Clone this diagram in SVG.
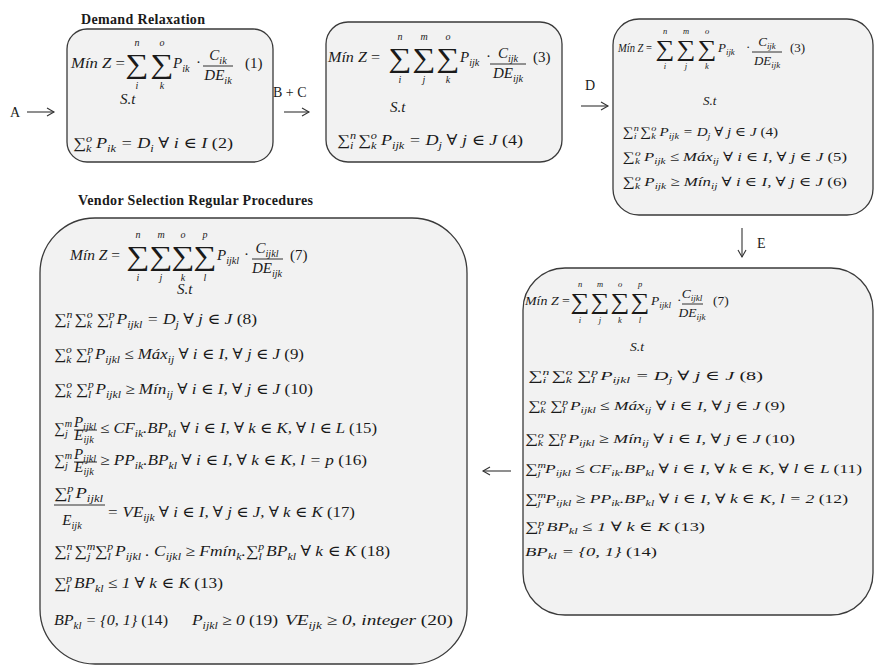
<svg xmlns="http://www.w3.org/2000/svg" width="875" height="666" viewBox="0 0 875 666">
<defs>
<style>
.box{fill:#f2f2f2;stroke:#3a3a3a;stroke-width:1.3}
text{font-family:"Liberation Serif","DejaVu Serif",serif;fill:#1a1a1a}
.m{font-style:italic;font-size:15px}
.m2{font-style:italic;font-size:13.5px}
.m3{font-style:italic;font-size:13px}
.u{font-style:normal}
.s{font-size:0.68em}
.sig{font-size:27px;font-style:normal;text-anchor:middle}
.sig2{font-size:23px;font-style:normal;text-anchor:middle}
.lim{font-size:10px;font-style:italic;text-anchor:middle}
.lim2{font-size:8.5px;font-style:italic;text-anchor:middle}
.ttl{font-weight:bold;font-size:14px}
.lbl{font-size:14px}
.c{text-anchor:middle}
.ln{stroke:#1a1a1a;stroke-width:0.9;fill:none}
.ar{stroke:#333;stroke-width:1.1;fill:none}
</style>
<marker id="ah" markerWidth="12" markerHeight="12" refX="9" refY="6" orient="auto" markerUnits="userSpaceOnUse">
<path d="M2,2 L9,6 L2,10" fill="none" stroke="#333" stroke-width="1.1"/>
</marker>
</defs>
<rect width="875" height="666" fill="#ffffff"/>

<g id="connectors">
<text class="lbl" x="10" y="117">A</text>
<line class="ar" x1="27" y1="112" x2="54" y2="112" marker-end="url(#ah)"/>
<text class="lbl" x="273" y="97">B + C</text>
<line class="ar" x1="284" y1="112" x2="309" y2="112" marker-end="url(#ah)"/>
<text class="lbl" x="585" y="90">D</text>
<line class="ar" x1="581" y1="106" x2="608" y2="106" marker-end="url(#ah)"/>
<line class="ar" x1="742" y1="228" x2="742" y2="257" marker-end="url(#ah)"/>
<text class="lbl" x="757" y="248">E</text>
<line class="ar" x1="511" y1="471" x2="483" y2="471" marker-end="url(#ah)"/>
</g>

<g id="n1">
<text class="ttl" x="81" y="24" textLength="124">Demand Relaxation</text>
<rect class="box" x="67" y="29" width="206" height="133" rx="20"/>
<text class="m" x="71" y="68" textLength="54" lengthAdjust="spacingAndGlyphs">Mín Z <tspan class="u">=</tspan></text>
<text class="sig" transform="translate(137,73) scale(1.2,1)">∑</text>
<text class="sig" transform="translate(162,73) scale(1.2,1)">∑</text>
<text class="lim" x="137" y="46">n</text><text class="lim" x="137" y="89">i</text>
<text class="lim" x="162" y="46">o</text><text class="lim" x="162" y="89">k</text>
<text class="m" x="173" y="68">P<tspan class="s" dy="4">ik</tspan></text>
<text class="m u" x="196" y="67">·</text>
<text class="m c" x="218" y="60">C<tspan class="s" dy="4">ik</tspan></text>
<line class="ln" x1="203" y1="66" x2="233" y2="66"/>
<text class="m c" x="218" y="80">DE<tspan class="s" dy="4">ik</tspan></text>
<text class="m u" x="245" y="68">(1)</text>
<text class="m" x="120" y="104" font-size="14">S.t</text>
<text class="m" x="73" y="148" textLength="160" lengthAdjust="spacingAndGlyphs"><tspan class="u">∑</tspan><tspan class="s" dy="-6">o</tspan><tspan class="s" dx="-5" dy="10">k</tspan><tspan dy="-4"> P</tspan><tspan class="s" dy="4">ik</tspan><tspan dy="-4"> = D</tspan><tspan class="s" dy="4">i</tspan><tspan dy="-4"> ∀ i ∈ I </tspan><tspan class="u">(2)</tspan></text>
</g>

<g id="n2">
<rect class="box" x="326" y="22" width="236" height="140" rx="22"/>
<text class="m" x="328" y="62" textLength="52" lengthAdjust="spacingAndGlyphs">Mín Z <tspan class="u">=</tspan></text>
<text class="sig" transform="translate(400,67) scale(1.2,1)">∑</text>
<text class="sig" transform="translate(424,67) scale(1.2,1)">∑</text>
<text class="sig" transform="translate(448,67) scale(1.2,1)">∑</text>
<text class="lim" x="400" y="40">n</text><text class="lim" x="400" y="83">i</text>
<text class="lim" x="424" y="40">m</text><text class="lim" x="424" y="83">j</text>
<text class="lim" x="448" y="40">o</text><text class="lim" x="448" y="83">k</text>
<text class="m" x="460" y="62">P<tspan class="s" dy="4">ijk</tspan></text>
<text class="m u" x="486" y="61">·</text>
<text class="m c" x="508" y="58">C<tspan class="s" dy="4">ijk</tspan></text>
<line class="ln" x1="490" y1="64" x2="526" y2="64"/>
<text class="m c" x="508" y="78">DE<tspan class="s" dy="4">ijk</tspan></text>
<text class="m u" x="533" y="62">(3)</text>
<text class="m" x="390" y="112" font-size="14">S.t</text>
<text class="m" x="337" y="145" textLength="186" lengthAdjust="spacingAndGlyphs"><tspan class="u">∑</tspan><tspan class="s" dy="-6">n</tspan><tspan class="s" dx="-5" dy="10">i</tspan><tspan dy="-4"> </tspan><tspan class="u">∑</tspan><tspan class="s" dy="-6">o</tspan><tspan class="s" dx="-5" dy="10">k</tspan><tspan dy="-4"> P</tspan><tspan class="s" dy="4">ijk</tspan><tspan dy="-4"> = D</tspan><tspan class="s" dy="4">j</tspan><tspan dy="-4"> ∀ j ∈ J </tspan><tspan class="u">(4)</tspan></text>
</g>

<g id="n3">
<rect class="box" x="613" y="19" width="260" height="196" rx="26"/>
<text class="m3" x="618" y="52" textLength="34" lengthAdjust="spacingAndGlyphs">Mín Z <tspan class="u">=</tspan></text>
<text class="sig2" transform="translate(665,56) scale(1.15,1)">∑</text>
<text class="sig2" transform="translate(686,56) scale(1.15,1)">∑</text>
<text class="sig2" transform="translate(707,56) scale(1.15,1)">∑</text>
<text class="lim2" x="665" y="34">n</text><text class="lim2" x="665" y="69">i</text>
<text class="lim2" x="686" y="34">m</text><text class="lim2" x="686" y="69">j</text>
<text class="lim2" x="707" y="34">o</text><text class="lim2" x="707" y="69">k</text>
<text class="m3" x="718" y="52">P<tspan class="s" dy="3">ijk</tspan></text>
<text class="m3 u" x="746" y="51">·</text>
<text class="m3 c" x="767" y="46">C<tspan class="s" dy="3">ijk</tspan></text>
<line class="ln" x1="752" y1="52" x2="782" y2="52"/>
<text class="m3 c" x="767" y="65">DE<tspan class="s" dy="3">ijk</tspan></text>
<text class="m3 u" x="790" y="52">(3)</text>
<text class="m3" x="703" y="105">S.t</text>
<text class="m3" x="623" y="136" textLength="155" lengthAdjust="spacingAndGlyphs"><tspan class="u">∑</tspan><tspan class="s" dy="-5">n</tspan><tspan class="s" dx="-4.4" dy="8">i</tspan><tspan dy="-3"> </tspan><tspan class="u">∑</tspan><tspan class="s" dy="-5">o</tspan><tspan class="s" dx="-4.4" dy="8">k</tspan><tspan dy="-3"> P</tspan><tspan class="s" dy="3">ijk</tspan><tspan dy="-3"> = D</tspan><tspan class="s" dy="3">j</tspan><tspan dy="-3"> ∀ j ∈ J </tspan><tspan class="u">(4)</tspan></text>
<text class="m3" x="623" y="161" textLength="224" lengthAdjust="spacingAndGlyphs"><tspan class="u">∑</tspan><tspan class="s" dy="-5">o</tspan><tspan class="s" dx="-4.4" dy="8">k</tspan><tspan dy="-3"> P</tspan><tspan class="s" dy="3">ijk</tspan><tspan dy="-3"> ≤ Máx</tspan><tspan class="s" dy="3">ij</tspan><tspan dy="-3"> ∀ i ∈ I, ∀ j ∈ J </tspan><tspan class="u">(5)</tspan></text>
<text class="m3" x="623" y="186" textLength="224" lengthAdjust="spacingAndGlyphs"><tspan class="u">∑</tspan><tspan class="s" dy="-5">o</tspan><tspan class="s" dx="-4.4" dy="8">k</tspan><tspan dy="-3"> P</tspan><tspan class="s" dy="3">ijk</tspan><tspan dy="-3"> ≥ Mín</tspan><tspan class="s" dy="3">ij</tspan><tspan dy="-3"> ∀ i ∈ I, ∀ j ∈ J </tspan><tspan class="u">(6)</tspan></text>
</g>

<g id="n4">
<text class="ttl" x="78" y="205" textLength="235">Vendor Selection Regular Procedures</text>
<rect class="box" x="40" y="218" width="427" height="446" rx="55"/>
<text class="m" x="70" y="260" textLength="50" lengthAdjust="spacingAndGlyphs">Mín Z <tspan class="u">=</tspan></text>
<text class="sig" transform="translate(138,265) scale(1.2,1)">∑</text>
<text class="sig" transform="translate(161,265) scale(1.2,1)">∑</text>
<text class="sig" transform="translate(183,265) scale(1.2,1)">∑</text>
<text class="sig" transform="translate(205,265) scale(1.2,1)">∑</text>
<text class="lim" x="138" y="238">n</text><text class="lim" x="138" y="281">i</text>
<text class="lim" x="161" y="238">m</text><text class="lim" x="161" y="281">j</text>
<text class="lim" x="183" y="238">o</text><text class="lim" x="183" y="281">k</text>
<text class="lim" x="205" y="238">p</text><text class="lim" x="205" y="281">l</text>
<text class="m" x="217" y="260">P<tspan class="s" dy="4">ijkl</tspan></text>
<text class="m u" x="244" y="259">·</text>
<text class="m c" x="267" y="253">C<tspan class="s" dy="4">ijkl</tspan></text>
<line class="ln" x1="252" y1="259" x2="283" y2="259"/>
<text class="m c" x="267" y="273">DE<tspan class="s" dy="4">ijk</tspan></text>
<text class="m u" x="290" y="260">(7)</text>
<text class="m" x="177" y="294" font-size="14">S.t</text>
<text class="m" x="54" y="324" textLength="203" lengthAdjust="spacingAndGlyphs"><tspan class="u">∑</tspan><tspan class="s" dy="-6">n</tspan><tspan class="s" dx="-5" dy="10">i</tspan><tspan dy="-4"> </tspan><tspan class="u">∑</tspan><tspan class="s" dy="-6">o</tspan><tspan class="s" dx="-5" dy="10">k</tspan><tspan dy="-4"> </tspan><tspan class="u">∑</tspan><tspan class="s" dy="-6">p</tspan><tspan class="s" dx="-5" dy="10">l</tspan><tspan dy="-4"> P</tspan><tspan class="s" dy="4">ijkl</tspan><tspan dy="-4"> = D</tspan><tspan class="s" dy="4">j</tspan><tspan dy="-4"> ∀ j ∈ J </tspan><tspan class="u">(8)</tspan></text>
<text class="m" x="54" y="359" textLength="250" lengthAdjust="spacingAndGlyphs"><tspan class="u">∑</tspan><tspan class="s" dy="-6">o</tspan><tspan class="s" dx="-5" dy="10">k</tspan><tspan dy="-4"> </tspan><tspan class="u">∑</tspan><tspan class="s" dy="-6">p</tspan><tspan class="s" dx="-5" dy="10">l</tspan><tspan dy="-4"> P</tspan><tspan class="s" dy="4">ijkl</tspan><tspan dy="-4"> ≤ Máx</tspan><tspan class="s" dy="4">ij</tspan><tspan dy="-4"> ∀ i ∈ I, ∀ j ∈ J </tspan><tspan class="u">(9)</tspan></text>
<text class="m" x="54" y="394" textLength="259" lengthAdjust="spacingAndGlyphs"><tspan class="u">∑</tspan><tspan class="s" dy="-6">o</tspan><tspan class="s" dx="-5" dy="10">k</tspan><tspan dy="-4"> </tspan><tspan class="u">∑</tspan><tspan class="s" dy="-6">p</tspan><tspan class="s" dx="-5" dy="10">l</tspan><tspan dy="-4"> P</tspan><tspan class="s" dy="4">ijkl</tspan><tspan dy="-4"> ≥ Mín</tspan><tspan class="s" dy="4">ij</tspan><tspan dy="-4"> ∀ i ∈ I, ∀ j ∈ J </tspan><tspan class="u">(10)</tspan></text>
<text class="m" x="54" y="433"><tspan class="u">∑</tspan><tspan class="s" dy="-6">m</tspan><tspan class="s" dx="-7" dy="10">j</tspan></text>
<text class="m c" x="85" y="427" font-size="10">P<tspan class="s" dy="3">ijkl</tspan></text>
<line class="ln" x1="74" y1="430" x2="97" y2="430" stroke-width="0.7"/>
<text class="m c" x="84" y="440" font-size="10">E<tspan class="s" dy="3">ijk</tspan></text>
<text class="m" x="100" y="433" textLength="277" lengthAdjust="spacingAndGlyphs">≤ CF<tspan class="s" dy="4">ik</tspan><tspan dy="-4">.BP</tspan><tspan class="s" dy="4">kl</tspan><tspan dy="-4"> ∀ i ∈ I, ∀ k ∈ K, ∀ l ∈ L </tspan><tspan class="u">(15)</tspan></text>
<text class="m" x="54" y="465"><tspan class="u">∑</tspan><tspan class="s" dy="-6">m</tspan><tspan class="s" dx="-7" dy="10">j</tspan></text>
<text class="m c" x="85" y="459" font-size="10">P<tspan class="s" dy="3">ijkl</tspan></text>
<line class="ln" x1="74" y1="462" x2="97" y2="462" stroke-width="0.7"/>
<text class="m c" x="84" y="472" font-size="10">E<tspan class="s" dy="3">ijk</tspan></text>
<text class="m" x="100" y="465" textLength="267" lengthAdjust="spacingAndGlyphs">≥ PP<tspan class="s" dy="4">ik</tspan><tspan dy="-4">.BP</tspan><tspan class="s" dy="4">kl</tspan><tspan dy="-4"> ∀ i ∈ I, ∀ k ∈ K, l = p </tspan><tspan class="u">(16)</tspan></text>
<text class="m" x="54" y="498" textLength="49" lengthAdjust="spacingAndGlyphs"><tspan class="u">∑</tspan><tspan class="s" dy="-6">p</tspan><tspan class="s" dx="-5" dy="10">l</tspan><tspan dy="-4"> P</tspan><tspan class="s" dy="4">ijkl</tspan></text>
<line class="ln" x1="54" y1="505" x2="105" y2="505"/>
<text class="m c" x="72" y="525">E<tspan class="s" dy="4">ijk</tspan></text>
<text class="m" x="107" y="517" textLength="248" lengthAdjust="spacingAndGlyphs">= VE<tspan class="s" dy="4">ijk</tspan><tspan dy="-4"> ∀ i ∈ I, ∀ j ∈ J, ∀ k ∈ K </tspan><tspan class="u">(17)</tspan></text>
<text class="m" x="54" y="556" textLength="336" lengthAdjust="spacingAndGlyphs"><tspan class="u">∑</tspan><tspan class="s" dy="-6">n</tspan><tspan class="s" dx="-5" dy="10">i</tspan><tspan dy="-4"> </tspan><tspan class="u">∑</tspan><tspan class="s" dy="-6">m</tspan><tspan class="s" dx="-7" dy="10">j</tspan><tspan dy="-4"> </tspan><tspan class="u">∑</tspan><tspan class="s" dy="-6">p</tspan><tspan class="s" dx="-5" dy="10">l</tspan><tspan dy="-4"> P</tspan><tspan class="s" dy="4">ijkl</tspan><tspan dy="-4"> . C</tspan><tspan class="s" dy="4">ijkl</tspan><tspan dy="-4"> ≥ Fmín</tspan><tspan class="s" dy="4">k</tspan><tspan dy="-4">.</tspan><tspan class="u">∑</tspan><tspan class="s" dy="-6">p</tspan><tspan class="s" dx="-5" dy="10">l</tspan><tspan dy="-4"> BP</tspan><tspan class="s" dy="4">kl</tspan><tspan dy="-4"> ∀ k ∈ K </tspan><tspan class="u">(18)</tspan></text>
<text class="m" x="54" y="588" textLength="169" lengthAdjust="spacingAndGlyphs"><tspan class="u">∑</tspan><tspan class="s" dy="-6">p</tspan><tspan class="s" dx="-5" dy="10">l</tspan><tspan dy="-4"> BP</tspan><tspan class="s" dy="4">kl</tspan><tspan dy="-4"> ≤ 1 ∀ k ∈ K </tspan><tspan class="u">(13)</tspan></text>
<text class="m" x="54" y="625" textLength="114" lengthAdjust="spacingAndGlyphs">BP<tspan class="s" dy="4">kl</tspan><tspan dy="-4"> = {0, 1} </tspan><tspan class="u">(14)</tspan></text>
<text class="m" x="192" y="625" textLength="86" lengthAdjust="spacingAndGlyphs">P<tspan class="s" dy="4">ijkl</tspan><tspan dy="-4"> ≥ 0 </tspan><tspan class="u">(19)</tspan></text>
<text class="m" x="285" y="625" textLength="168" lengthAdjust="spacingAndGlyphs">VE<tspan class="s" dy="4">ijk</tspan><tspan dy="-4"> ≥ 0, integer </tspan><tspan class="u">(20)</tspan></text>
</g>

<g id="n5">
<rect class="box" x="523" y="268" width="350" height="347" rx="42"/>
<text class="m2" x="525" y="305" textLength="45" lengthAdjust="spacingAndGlyphs">Mín Z <tspan class="u">=</tspan></text>
<text class="sig2" transform="translate(580,309) scale(1.15,1)">∑</text>
<text class="sig2" transform="translate(600,309) scale(1.15,1)">∑</text>
<text class="sig2" transform="translate(620,309) scale(1.15,1)">∑</text>
<text class="sig2" transform="translate(640,309) scale(1.15,1)">∑</text>
<text class="lim2" x="580" y="287">n</text><text class="lim2" x="580" y="323">i</text>
<text class="lim2" x="600" y="287">m</text><text class="lim2" x="600" y="323">j</text>
<text class="lim2" x="620" y="287">o</text><text class="lim2" x="620" y="323">k</text>
<text class="lim2" x="640" y="287">p</text><text class="lim2" x="640" y="323">l</text>
<text class="m2" x="651" y="305">P<tspan class="s" dy="3">ijkl</tspan></text>
<text class="m2 u" x="677" y="304">·</text>
<text class="m2 c" x="692" y="298">C<tspan class="s" dy="3">ijkl</tspan></text>
<line class="ln" x1="682" y1="304" x2="703" y2="304"/>
<text class="m2 c" x="692" y="317">DE<tspan class="s" dy="3">ijk</tspan></text>
<text class="m2 u" x="713" y="305">(7)</text>
<text class="m2" x="630" y="351">S.t</text>
<text class="m2" x="528" y="380" textLength="235" lengthAdjust="spacingAndGlyphs"><tspan class="u">∑</tspan><tspan class="s" dy="-5">n</tspan><tspan class="s" dx="-4.6" dy="8">i</tspan><tspan dy="-3"> </tspan><tspan class="u">∑</tspan><tspan class="s" dy="-5">o</tspan><tspan class="s" dx="-4.6" dy="8">k</tspan><tspan dy="-3"> </tspan><tspan class="u">∑</tspan><tspan class="s" dy="-5">p</tspan><tspan class="s" dx="-4.6" dy="8">l</tspan><tspan dy="-3"> P</tspan><tspan class="s" dy="3">ijkl</tspan><tspan dy="-3"> = D</tspan><tspan class="s" dy="3">j</tspan><tspan dy="-3"> ∀ j ∈ J </tspan><tspan class="u">(8)</tspan></text>
<text class="m2" x="528" y="410" textLength="257" lengthAdjust="spacingAndGlyphs"><tspan class="u">∑</tspan><tspan class="s" dy="-5">o</tspan><tspan class="s" dx="-4.6" dy="8">k</tspan><tspan dy="-3"> </tspan><tspan class="u">∑</tspan><tspan class="s" dy="-5">p</tspan><tspan class="s" dx="-4.6" dy="8">l</tspan><tspan dy="-3"> P</tspan><tspan class="s" dy="3">ijkl</tspan><tspan dy="-3"> ≤ Máx</tspan><tspan class="s" dy="3">ij</tspan><tspan dy="-3"> ∀ i ∈ I, ∀ j ∈ J </tspan><tspan class="u">(9)</tspan></text>
<text class="m2" x="525" y="443" textLength="270" lengthAdjust="spacingAndGlyphs"><tspan class="u">∑</tspan><tspan class="s" dy="-5">o</tspan><tspan class="s" dx="-4.6" dy="8">k</tspan><tspan dy="-3"> </tspan><tspan class="u">∑</tspan><tspan class="s" dy="-5">p</tspan><tspan class="s" dx="-4.6" dy="8">l</tspan><tspan dy="-3"> P</tspan><tspan class="s" dy="3">ijkl</tspan><tspan dy="-3"> ≥ Mín</tspan><tspan class="s" dy="3">ij</tspan><tspan dy="-3"> ∀ i ∈ I, ∀ j ∈ J </tspan><tspan class="u">(10)</tspan></text>
<text class="m2" x="525" y="473" textLength="337" lengthAdjust="spacingAndGlyphs"><tspan class="u">∑</tspan><tspan class="s" dy="-5">m</tspan><tspan class="s" dx="-6.6" dy="8">j</tspan><tspan dy="-3"> P</tspan><tspan class="s" dy="3">ijkl</tspan><tspan dy="-3"> ≤ CF</tspan><tspan class="s" dy="3">ik</tspan><tspan dy="-3">.BP</tspan><tspan class="s" dy="3">kl</tspan><tspan dy="-3"> ∀ i ∈ I, ∀ k ∈ K, ∀ l ∈ L </tspan><tspan class="u">(11)</tspan></text>
<text class="m2" x="525" y="503" textLength="323" lengthAdjust="spacingAndGlyphs"><tspan class="u">∑</tspan><tspan class="s" dy="-5">m</tspan><tspan class="s" dx="-6.6" dy="8">j</tspan><tspan dy="-3"> P</tspan><tspan class="s" dy="3">ijkl</tspan><tspan dy="-3"> ≥ PP</tspan><tspan class="s" dy="3">ik</tspan><tspan dy="-3">.BP</tspan><tspan class="s" dy="3">kl</tspan><tspan dy="-3"> ∀ i ∈ I, ∀ k ∈ K, l = 2 </tspan><tspan class="u">(12)</tspan></text>
<text class="m2" x="525" y="531" textLength="180" lengthAdjust="spacingAndGlyphs"><tspan class="u">∑</tspan><tspan class="s" dy="-5">p</tspan><tspan class="s" dx="-4.6" dy="8">l</tspan><tspan dy="-3"> BP</tspan><tspan class="s" dy="3">kl</tspan><tspan dy="-3"> ≤ 1 ∀ k ∈ K </tspan><tspan class="u">(13)</tspan></text>
<text class="m2" x="525" y="556" textLength="132" lengthAdjust="spacingAndGlyphs">BP<tspan class="s" dy="3">kl</tspan><tspan dy="-3"> = {0, 1} </tspan><tspan class="u">(14)</tspan></text>
</g>
</svg>
